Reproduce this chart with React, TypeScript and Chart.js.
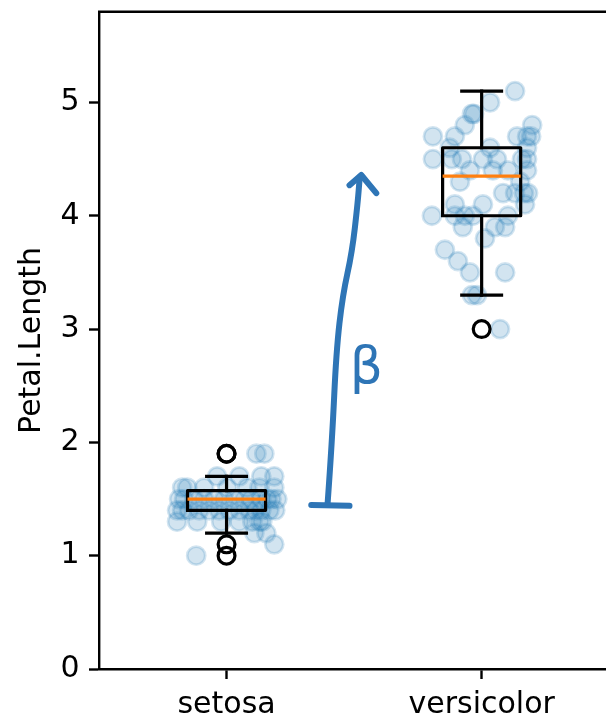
import React, { useEffect, useRef } from "react";
import { Chart, registerables } from "chart.js";

Chart.register(...registerables);

// ---- data ----
const categories = ["setosa", "versicolor"];
const yTicks = [0, 1, 2, 3, 4, 5];
const yMin = 0;
const yMax = 5.8;
const yTitle = "Petal.Length";

const setosaValues = [
  1.9, 1.9,
  1.7, 1.7, 1.7, 1.7,
  1.6, 1.6, 1.6, 1.6, 1.6, 1.6, 1.6,
  1.5, 1.5, 1.5, 1.5, 1.5, 1.5, 1.5, 1.5, 1.5, 1.5, 1.5, 1.5, 1.5,
  1.4, 1.4, 1.4, 1.4, 1.4, 1.4, 1.4, 1.4, 1.4, 1.4, 1.4, 1.4, 1.4,
  1.3, 1.3, 1.3, 1.3, 1.3, 1.3, 1.3,
  1.2, 1.2,
  1.1,
  1.0,
];
const setosaJitter = [
  0.117, 0.148,
  0.05, 0.187, -0.037, 0.136,
  -0.174, -0.154, -0.088, 0.081, 0.129, 0.187, 0.003,
  -0.186, -0.166, -0.127, -0.088, -0.048, -0.009, 0.03, 0.07, 0.097, 0.136, 0.16, 0.176, 0.199,
  -0.194, -0.174, -0.147, -0.107, -0.068, -0.029, 0.011, 0.05, 0.089, 0.113, 0.136, 0.168, 0.191,
  -0.194, -0.115, 0.101, 0.129, 0.14, -0.021, 0.05,
  0.109, 0.156,
  0.187,
  -0.119,
];
const versicolorValues = [
  5.1,
  5.0,
  4.9, 4.9,
  4.8, 4.8,
  4.7, 4.7, 4.7, 4.7, 4.7,
  4.6, 4.6, 4.6,
  4.5, 4.5, 4.5, 4.5, 4.5, 4.5, 4.5,
  4.4, 4.4, 4.4, 4.4,
  4.3, 4.3,
  4.2, 4.2, 4.2, 4.2,
  4.1, 4.1, 4.1,
  4.0, 4.0, 4.0, 4.0, 4.0,
  3.9, 3.9, 3.9,
  3.8,
  3.7,
  3.6,
  3.5, 3.5,
  3.3, 3.3,
  3.0,
];
const versicolorJitter = [
  0.131,
  0.033,
  -0.038, -0.03,
  -0.066, 0.198,
  -0.191, -0.105, 0.139, 0.178, 0.194,
  -0.125, 0.033, 0.178,
  -0.191, -0.117, -0.077, 0.005, 0.06, 0.158, 0.178,
  -0.046, 0.044, 0.103, 0.178,
  -0.085, 0.151,
  0.084, 0.131, 0.182, 0.166,
  -0.105, 0.005, 0.17,
  -0.195, -0.105, -0.066, -0.034, 0.103,
  -0.074, 0.052, 0.092,
  0.013,
  -0.144,
  -0.093,
  -0.046, 0.092,
  -0.038, -0.018,
  0.072,
];

const boxQ1 = [1.4, 4.0];
const boxMedian = [1.5, 4.35];
const boxQ3 = [1.575, 4.6];
const whiskerLow = [1.2, 3.3];
const whiskerHigh = [1.7, 5.1];
const fliers = [[1.9, 1.9, 1.1, 1.0], [3.0]];

// hand-drawn annotation (data coordinates)
const arrowShaft = [
  [0.396, 1.456],
  [0.414, 2.02],
  [0.43, 2.8],
  [0.455, 3.3],
  [0.492, 3.675],
  [0.514, 4.11],
  [0.522, 4.34],
];
const arrowBase = [
  [0.332, 1.447],
  [0.482, 1.44],
];
const arrowHead = [
  [0.482, 4.27],
  [0.528, 4.36],
  [0.587, 4.2],
];
const betaLabel = "β";
const betaPos = [0.548, 2.64];

// ---- styling ----
const FONT = "'DejaVu Sans', sans-serif";
const FONT_SIZE = 30;
const BLUE = "31,119,180";
const ANNOT = "#2e75b6";
const LW = 3.2;
const BOX_HALF = 0.153;
const CAP_HALF = 0.078;

function lineDs(points: { x: number; y: number }[], color: string, order: number) {
  return {
    type: "scatter" as const,
    data: points,
    showLine: true,
    borderColor: color,
    backgroundColor: color,
    borderWidth: LW,
    borderCapStyle: "square" as const,
    borderJoinStyle: "round" as const,
    pointRadius: 0,
    pointHoverRadius: 0,
    order,
  };
}

const annotPlugin = {
  id: "annot",
  afterDatasetsDraw(chart: any) {
    const { ctx, chartArea, scales } = chart;
    const xs = scales.x;
    const ys = scales.y;
    const P = (p: number[]) => [xs.getPixelForValue(p[0]), ys.getPixelForValue(p[1])];
    ctx.save();
    // top spine
    ctx.strokeStyle = "#000";
    ctx.lineWidth = 2.4;
    ctx.beginPath();
    ctx.moveTo(chartArea.left - 1, chartArea.top);
    ctx.lineTo(chartArea.right, chartArea.top);
    ctx.stroke();

    const poly = (pts: number[][]) => {
      ctx.beginPath();
      pts.forEach((p, i) => {
        const [px, py] = P(p);
        if (i === 0) ctx.moveTo(px, py);
        else ctx.lineTo(px, py);
      });
      ctx.stroke();
    };
    const smooth = (pts: number[][]) => {
      const q = pts.map(P);
      ctx.beginPath();
      ctx.moveTo(q[0][0], q[0][1]);
      for (let i = 1; i < q.length - 1; i++) {
        const mx = (q[i][0] + q[i + 1][0]) / 2;
        const my = (q[i][1] + q[i + 1][1]) / 2;
        ctx.quadraticCurveTo(q[i][0], q[i][1], mx, my);
      }
      const last = q[q.length - 1];
      ctx.lineTo(last[0], last[1]);
      ctx.stroke();
    };
    ctx.strokeStyle = ANNOT;
    ctx.lineWidth = 6;
    ctx.lineCap = "round";
    ctx.lineJoin = "round";
    smooth(arrowShaft);
    poly(arrowBase);
    poly(arrowHead);

    const [bx, by] = P(betaPos);
    ctx.fillStyle = ANNOT;
    ctx.font = `52px ${FONT}`;
    ctx.textAlign = "center";
    ctx.textBaseline = "middle";
    ctx.fillText(betaLabel, bx, by);
    ctx.restore();
  },
};

export default function App() {
  const ref = useRef<HTMLCanvasElement | null>(null);

  useEffect(() => {
    if (!ref.current) return;
    const groups = [
      { values: setosaValues, jitter: setosaJitter },
      { values: versicolorValues, jitter: versicolorJitter },
    ];
    const datasets: any[] = [];
    groups.forEach((g, i) => {
      datasets.push({
        type: "scatter",
        data: g.values.map((v, k) => ({ x: i + g.jitter[k], y: v })),
        pointRadius: 9,
        pointHoverRadius: 9,
        borderWidth: 2.8,
        backgroundColor: `rgba(${BLUE},0.2)`,
        borderColor: `rgba(${BLUE},0.2)`,
        order: 5,
      });
    });
    categories.forEach((_, i) => {
      const l = i - BOX_HALF;
      const r = i + BOX_HALF;
      datasets.push(
        lineDs(
          [
            { x: l, y: boxQ1[i] },
            { x: r, y: boxQ1[i] },
            { x: r, y: boxQ3[i] },
            { x: l, y: boxQ3[i] },
            { x: l, y: boxQ1[i] },
          ],
          "#000",
          2
        )
      );
      datasets.push(lineDs([{ x: i, y: boxQ1[i] }, { x: i, y: whiskerLow[i] }], "#000", 2));
      datasets.push(lineDs([{ x: i, y: boxQ3[i] }, { x: i, y: whiskerHigh[i] }], "#000", 2));
      datasets.push(
        lineDs([{ x: i - CAP_HALF, y: whiskerLow[i] }, { x: i + CAP_HALF, y: whiskerLow[i] }], "#000", 2)
      );
      datasets.push(
        lineDs([{ x: i - CAP_HALF, y: whiskerHigh[i] }, { x: i + CAP_HALF, y: whiskerHigh[i] }], "#000", 2)
      );
      const med = lineDs([{ x: l, y: boxMedian[i] }, { x: r, y: boxMedian[i] }], "#ff7f0e", 1);
      (med as any).borderCapStyle = "butt";
      datasets.push(med);
      datasets.push({
        type: "scatter",
        data: fliers[i].map((v) => ({ x: i, y: v })),
        pointRadius: 8.4,
        pointHoverRadius: 8.4,
        borderWidth: 3.2,
        backgroundColor: "rgba(0,0,0,0)",
        borderColor: "#000",
        order: 1,
      });
    });

    const chart = new Chart(ref.current, {
      type: "scatter",
      data: { datasets },
      plugins: [annotPlugin],
      options: {
        animation: false,
        responsive: false,
        devicePixelRatio: 1,
        events: [],
        layout: { padding: { top: 8, right: 3, bottom: 0, left: 0 } },
        plugins: { legend: { display: false }, tooltip: { enabled: false } },
        scales: {
          x: {
            type: "linear",
            min: -0.5,
            max: 1.5,
            afterBuildTicks: (s: any) => {
              s.ticks = categories.map((_, i) => ({ value: i }));
            },
            afterFit: (s: any) => {
              s.height = 49;
              s.paddingLeft = 0;
              s.paddingRight = 0;
            },
            ticks: {
              callback: (v: any) => categories[Math.round(Number(v))] ?? "",
              color: "#000",
              font: { family: FONT, size: FONT_SIZE },
              padding: 8,
              maxRotation: 0,
              autoSkip: false,
            },
            grid: {
              drawOnChartArea: false,
              drawTicks: true,
              tickLength: 10,
              tickWidth: 2.4,
              tickColor: "#000",
            },
            border: { display: true, color: "#000", width: 2.4 },
          },
          y: {
            type: "linear",
            min: yMin,
            max: yMax,
            afterBuildTicks: (s: any) => {
              s.ticks = yTicks.map((v) => ({ value: v }));
            },
            afterFit: (s: any) => {
              s.width = 99;
              s.paddingTop = 0;
              s.paddingBottom = 0;
            },
            ticks: {
              callback: (v: any) => String(v),
              color: "#000",
              font: { family: FONT, size: FONT_SIZE },
              padding: 9.5,
            },
            grid: {
              drawOnChartArea: false,
              drawTicks: true,
              tickLength: 10,
              tickWidth: 2.4,
              tickColor: "#000",
            },
            border: { display: true, color: "#000", width: 2.4 },
            title: {
              display: true,
              text: yTitle,
              color: "#000",
              font: { family: FONT, size: FONT_SIZE },
              padding: { top: 14, bottom: 0 },
            },
          },
        },
      } as any,
    });
    return () => chart.destroy();
  }, []);

  return (
    <div
      style={{
        position: "fixed",
        left: 0,
        top: 0,
        width: 606,
        height: 718,
        overflow: "hidden",
        background: "#fff",
      }}
    >
      <canvas ref={ref} width={621} height={718} style={{ display: "block", width: 621, height: 718 }} />
    </div>
  );
}
